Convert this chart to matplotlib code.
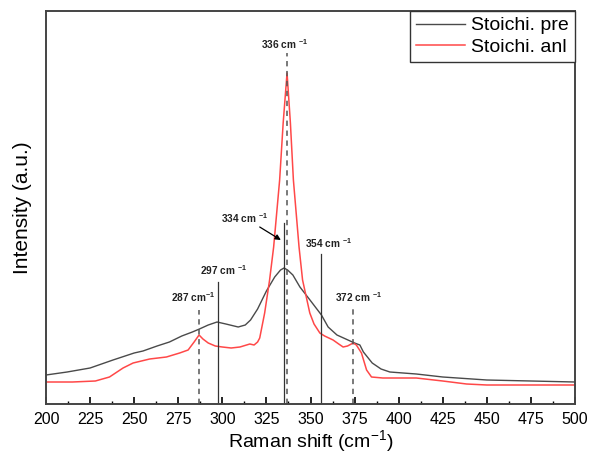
"""Raman spectra of stoichiometric film, before and after anneal."""
import matplotlib
matplotlib.use("Agg")
import matplotlib.pyplot as plt
from matplotlib.ticker import MultipleLocator

plt.rcParams["font.family"] = ["Liberation Sans", "DejaVu Sans"]
plt.rcParams["mathtext.fontset"] = "custom"
plt.rcParams["mathtext.rm"] = "Liberation Sans"
plt.rcParams["mathtext.bf"] = "Liberation Sans:bold"

# Stoichi. pre (arbitrary units)
pre_shift = [200, 212, 225, 238, 250, 255, 263, 270, 277, 283, 287, 292, 297,
             302, 309, 313, 316, 320, 325, 329.7, 333, 335, 337, 340, 344,
             349.7, 356.2, 360, 365, 370, 375, 378, 380, 385, 390, 395, 410,
             425, 450, 475, 500]
pre_int = [29, 32, 36, 44, 51, 53, 58, 62, 68, 72, 75, 79, 82,
           80, 77, 79, 84, 95, 113, 127, 134, 136, 134, 129, 117,
           104, 89, 77, 69, 65, 61, 59, 52, 41, 35, 32, 30,
           27, 24, 23, 22]

# Stoichi. anl
anl_shift = [200, 215, 228, 236, 243.7, 249.4, 258.8, 268.3, 275.8, 280.6, 284,
             286.8, 289, 292, 296, 300, 305, 310, 315.6, 318, 320, 321.2, 324,
             326.8, 329.1, 332.5, 334.5, 336.7, 338.6, 340.3, 343.5, 345.5,
             349.6, 352, 355.3, 358, 362.8, 366, 368.5, 371, 374.2, 376,
             378.9, 381.8, 384.6, 391, 410, 425, 438.5, 450, 475, 500]
anl_int = [22, 22, 23, 27, 36, 41, 45, 47, 51, 54, 62,
           69, 65, 61, 58, 57, 56, 57, 60, 59, 62, 66, 91,
           124, 157, 224, 281, 331, 281, 224, 157, 124,
           91, 80, 71, 68, 64, 60, 57, 58, 61, 59,
           51, 34, 27, 26, 26, 23, 20, 19, 19, 19]

# peak markers: label, drawn position, line top, dashed?, label position
peak_names = ["287", "297", "334", "336", "354", "372"]
peak_pos = [286.8, 297.6, 335.0, 336.7, 356.2, 374.2]
peak_top = [94, 122, 181, 351, 150, 96]
peak_dashed = [True, False, False, True, False, True]
label_x = [283.3, 300.5, 312.4, 335.4, 360.4, 377.4]
label_y = [107, 134, 186, 360, 161, 107]
label_gap = ["", " ", " ", " ", " ", " "]

fig = plt.figure(figsize=(5.93, 4.55), dpi=100)
ax = fig.add_axes([46 / 593, 51 / 455, 529 / 593, 393 / 455])

ax.plot(pre_shift, pre_int, color="#4a4a4a", lw=1.0, label="Stoichi. pre")
ax.plot(anl_shift, anl_int, color="#ff4848", lw=1.1, label="Stoichi. anl")

for name, x, top, dashed, lx, ly, gap in zip(peak_names, peak_pos, peak_top,
                                             peak_dashed, label_x, label_y, label_gap):
    if dashed:
        ax.plot([x, x], [0, top], color="#555555", lw=1.1, ls=(0, (3.5, 3)))
    else:
        ax.plot([x, x], [0, top], color="#333333", lw=0.9)
    ax.text(lx, ly, name + " cm" + gap + r"$^{\mathbf{-1}}$", fontsize=7.3,
            fontweight="bold", ha="center", va="center", color="#222222")

# arrow pointing at the 334 line
ax.annotate("", xy=(333.2, 164), xytext=(321.2, 177),
            arrowprops=dict(arrowstyle="-|>", color="black", lw=0.9,
                            mutation_scale=8, shrinkA=0, shrinkB=0))

ax.set_xlim(200, 500)
ax.set_ylim(0, 393)
ax.xaxis.set_major_locator(MultipleLocator(25))
ax.xaxis.set_minor_locator(MultipleLocator(12.5))
ax.tick_params(axis="x", which="major", direction="in", length=5, width=1.2,
               labelsize=11.5, pad=6)
ax.tick_params(axis="x", which="minor", direction="in", length=2.5, width=1.0)
ax.set_yticks([])
for s in ax.spines.values():
    s.set_linewidth(1.4)
    s.set_color("#444444")

ax.set_xlabel(r"Raman shift (cm$^{-1}$)", fontsize=14, labelpad=1)
ax.set_ylabel("Intensity (a.u.)", fontsize=15, labelpad=10)

leg = ax.legend(loc="upper right", borderaxespad=0, fontsize=14,
                fancybox=False, framealpha=1, edgecolor="#333333",
                handlelength=2.5, handletextpad=0.35, labelspacing=0.2,
                borderpad=0.3)
leg.get_frame().set_linewidth(1.0)

fig.savefig("out.png", dpi=100)
